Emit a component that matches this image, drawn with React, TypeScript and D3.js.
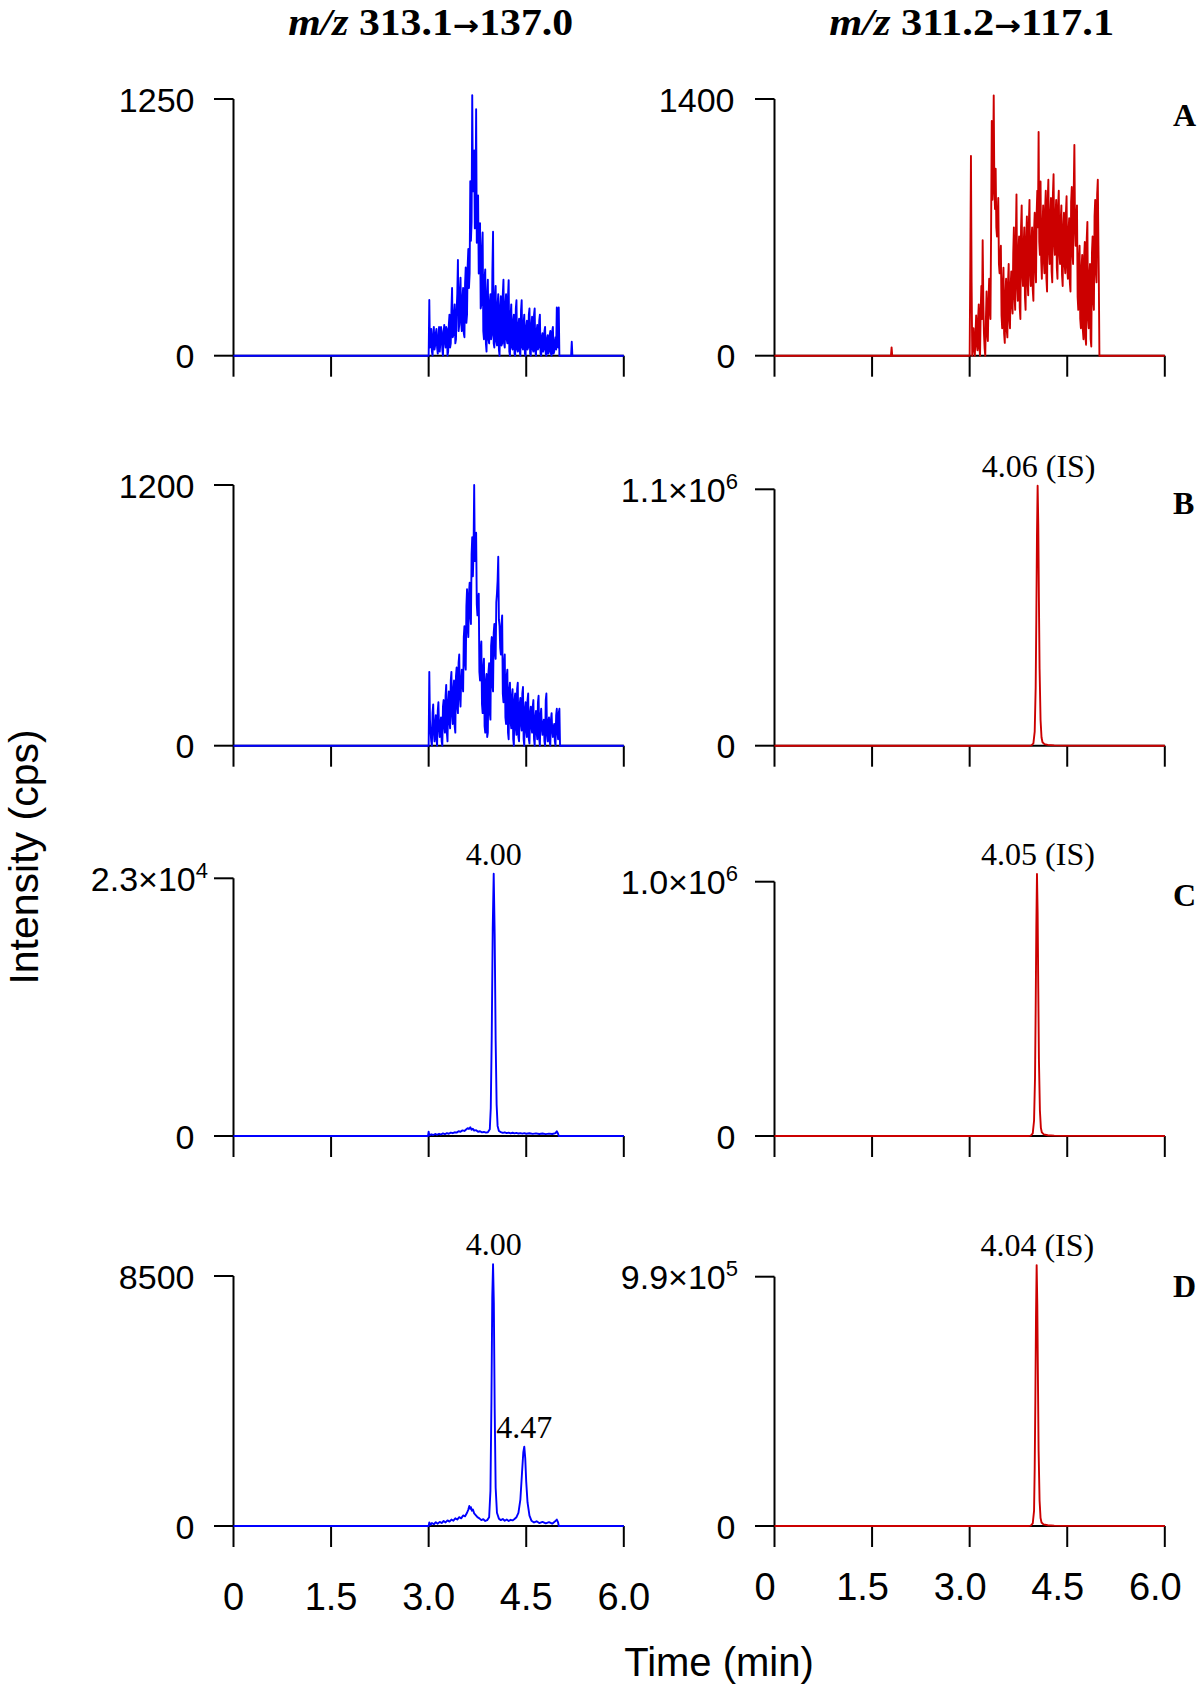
import React from "react";
import * as d3 from "d3";

type Pt = [number, number];

// ---------- DATA ----------
const timeTicks = [0, 1.5, 3.0, 4.5, 6.0];
const timeTickLabels = ["0", "1.5", "3.0", "4.5", "6.0"];
const columnTitles: [string, string][] = [["313.1", "137.0"], ["311.2", "117.1"]];
const panelLetters = ["A", "B", "C", "D"];
const yAxisTitle = "Intensity (cps)";
const xAxisTitle = "Time (min)";

const leftMax = [1250, 1200, 23000, 8500];
const rightMax = [1400, 1100000, 1000000, 990000];
const leftMaxLabels: [string, string | null][] = [["1250", null], ["1200", null], ["2.3", "4"], ["8500", null]];
const rightMaxLabels: [string, string | null][] = [["1400", null], ["1.1", "6"], ["1.0", "6"], ["9.9", "5"]];

// Panel A, m/z 313.1->137.0 (blank)
const aLeft: Pt[] = [
  [0, 0], [3.0, 0], [3.01, 271], [3.02, 40], [3.03, 90], [3.04, 130], [3.05, 20], [3.06, 0], [3.07, 100], [3.08, 140], [3.09, 30], [3.1, 50], [3.11, 110], [3.12, 130], [3.13, 40], [3.14, 10],
  [3.15, 90], [3.16, 140], [3.17, 20], [3.18, 60], [3.19, 140], [3.2, 120], [3.21, 30], [3.22, 0], [3.23, 110], [3.24, 150], [3.25, 70], [3.26, 40], [3.27, 140], [3.28, 130], [3.29, 0], [3.3, 20],
  [3.31, 150], [3.32, 200], [3.33, 40], [3.34, 60], [3.35, 220], [3.36, 330], [3.37, 90], [3.38, 100], [3.39, 200], [3.4, 250], [3.41, 60], [3.42, 80], [3.43, 220], [3.44, 300], [3.45, 466], [3.46, 120],
  [3.47, 150], [3.48, 310], [3.49, 380], [3.5, 160], [3.51, 120], [3.52, 280], [3.53, 330], [3.54, 110], [3.55, 90], [3.56, 350], [3.57, 430], [3.58, 160], [3.59, 200], [3.6, 440], [3.61, 520], [3.62, 330],
  [3.63, 400], [3.64, 850], [3.65, 560], [3.66, 650], [3.67, 1269], [3.68, 800], [3.69, 850], [3.7, 1000], [3.71, 620], [3.72, 700], [3.73, 1200], [3.74, 550], [3.75, 600], [3.76, 780], [3.77, 400], [3.78, 450],
  [3.79, 645], [3.8, 230], [3.81, 250], [3.82, 520], [3.83, 600], [3.84, 120], [3.85, 80], [3.86, 380], [3.87, 420], [3.88, 60], [3.89, 20], [3.9, 300], [3.91, 370], [3.92, 80], [3.93, 60], [3.94, 260],
  [3.95, 300], [3.96, 80], [3.97, 100], [3.98, 420], [3.99, 604], [4.0, 60], [4.01, 40], [4.02, 280], [4.03, 340], [4.04, 70], [4.05, 50], [4.06, 250], [4.07, 300], [4.08, 30], [4.09, 0], [4.1, 240],
  [4.11, 290], [4.12, 50], [4.13, 60], [4.14, 300], [4.15, 370], [4.16, 60], [4.17, 40], [4.18, 250], [4.19, 300], [4.2, 80], [4.21, 60], [4.22, 290], [4.23, 368], [4.24, 20], [4.25, 0], [4.26, 200],
  [4.27, 250], [4.28, 40], [4.29, 30], [4.3, 170], [4.31, 200], [4.32, 10], [4.33, 0], [4.34, 230], [4.35, 270], [4.36, 30], [4.37, 20], [4.38, 150], [4.39, 180], [4.4, 20], [4.41, 0], [4.42, 220],
  [4.43, 270], [4.44, 40], [4.45, 30], [4.46, 160], [4.47, 200], [4.48, 10], [4.49, 0], [4.5, 140], [4.51, 170], [4.52, 30], [4.53, 40], [4.54, 200], [4.55, 230], [4.56, 10], [4.57, 0], [4.58, 150],
  [4.59, 190], [4.6, 30], [4.61, 20], [4.62, 200], [4.63, 230], [4.64, 20], [4.65, 0], [4.66, 120], [4.67, 150], [4.68, 30], [4.69, 40], [4.7, 170], [4.71, 200], [4.72, 10], [4.73, 0], [4.74, 90],
  [4.75, 110], [4.76, 20], [4.77, 30], [4.78, 120], [4.79, 140], [4.8, 10], [4.81, 0], [4.82, 80], [4.83, 100], [4.84, 10], [4.85, 20], [4.86, 100], [4.87, 120], [4.88, 10], [4.89, 0], [4.9, 120],
  [4.91, 140], [4.92, 10], [4.93, 20], [4.94, 70], [4.95, 90], [4.96, 30], [4.97, 235], [4.98, 60], [4.99, 40], [5.0, 235], [5.01, 0], [5.19, 0], [5.2, 68], [5.21, 0], [6.0, 0],
];

// Panel A, m/z 311.2->117.1 (blank)
const aRight: Pt[] = [
  [0, 0], [1.79, 0], [1.8, 45], [1.81, 0], [3.0, 0], [3.01, 500], [3.02, 1090], [3.03, 400], [3.04, 0], [3.05, 60], [3.06, 150], [3.07, 30],
  [3.08, 0], [3.09, 120], [3.1, 220], [3.11, 60], [3.12, 30], [3.13, 200], [3.14, 280], [3.15, 40], [3.16, 0], [3.17, 250], [3.18, 380], [3.19, 200], [3.2, 630], [3.21, 300], [3.22, 120], [3.23, 40], [3.24, 0], [3.25, 200], [3.26, 350],
  [3.27, 120], [3.28, 80], [3.29, 300], [3.3, 420], [3.31, 250], [3.32, 200], [3.33, 700], [3.34, 1280], [3.35, 850], [3.36, 1000], [3.37, 1420], [3.38, 900], [3.39, 800], [3.4, 1020], [3.41, 700], [3.42, 650], [3.43, 760], [3.44, 860],
  [3.45, 500], [3.46, 450], [3.47, 520], [3.48, 600], [3.49, 220], [3.5, 150], [3.51, 380], [3.52, 480], [3.53, 120], [3.54, 70], [3.55, 330], [3.56, 420], [3.57, 140], [3.58, 100], [3.59, 400], [3.6, 500], [3.61, 200], [3.62, 150], [3.63, 380], [3.64, 460],
  [3.65, 280], [3.66, 230], [3.67, 560], [3.68, 700], [3.69, 320], [3.7, 250], [3.71, 640], [3.72, 880], [3.73, 380], [3.74, 300], [3.75, 560], [3.76, 650], [3.77, 260], [3.78, 200], [3.79, 700], [3.8, 820], [3.81, 450], [3.82, 380], [3.83, 600], [3.84, 700],
  [3.85, 320], [3.86, 250], [3.87, 640], [3.88, 760], [3.89, 400], [3.9, 330], [3.91, 720], [3.92, 850], [3.93, 450], [3.94, 380], [3.95, 620], [3.96, 700], [3.97, 360], [3.98, 300], [3.99, 680], [4.0, 780], [4.01, 480], [4.02, 400], [4.03, 780], [4.04, 900],
  [4.05, 700], [4.06, 1220], [4.07, 620], [4.08, 550], [4.09, 950], [4.1, 520], [4.11, 420], [4.12, 700], [4.13, 820], [4.14, 520], [4.15, 450], [4.16, 800], [4.17, 900], [4.18, 420], [4.19, 350], [4.2, 850], [4.21, 960], [4.22, 580], [4.23, 500],
  [4.24, 760], [4.25, 860], [4.26, 460], [4.27, 400], [4.28, 880], [4.29, 990], [4.3, 620], [4.31, 550], [4.32, 760], [4.33, 850], [4.34, 480], [4.35, 420], [4.36, 820], [4.37, 900], [4.38, 560], [4.39, 500], [4.4, 740], [4.41, 820], [4.42, 440], [4.43, 380],
  [4.44, 700], [4.45, 780], [4.46, 500], [4.47, 450], [4.48, 780], [4.49, 870], [4.5, 480], [4.51, 420], [4.52, 680], [4.53, 750], [4.54, 400], [4.55, 350], [4.56, 840], [4.57, 920], [4.58, 560], [4.59, 500], [4.6, 900], [4.61, 1150], [4.62, 700], [4.63, 600],
  [4.64, 740], [4.65, 820], [4.66, 320], [4.67, 250], [4.68, 520], [4.69, 600], [4.7, 200], [4.71, 150], [4.72, 480], [4.73, 550], [4.74, 140], [4.75, 90], [4.76, 540], [4.77, 620], [4.78, 100], [4.79, 60], [4.8, 640], [4.81, 730], [4.82, 200], [4.83, 150],
  [4.84, 440], [4.85, 500], [4.86, 90], [4.87, 50], [4.88, 560], [4.89, 650], [4.9, 300], [4.91, 250], [4.92, 760], [4.93, 850], [4.94, 460], [4.95, 400], [4.96, 880], [4.97, 960], [4.98, 600], [4.985, 450], [4.995, 0], [6.0, 0],
];

// Panel B, m/z 313.1->137.0
const bLeft: Pt[] = [
  [0, 0], [3.0, 0], [3.01, 340], [3.02, 120], [3.03, 60], [3.04, 20], [3.05, 0], [3.06, 150], [3.07, 190], [3.08, 60], [3.09, 20], [3.1, 100], [3.11, 140], [3.12, 30], [3.13, 0], [3.14, 160], [3.15, 200],
  [3.16, 80], [3.17, 40], [3.18, 100], [3.19, 130], [3.2, 20], [3.21, 0], [3.22, 180], [3.23, 210], [3.24, 90], [3.25, 60], [3.26, 230], [3.27, 280], [3.28, 60], [3.29, 20], [3.3, 200], [3.31, 250], [3.32, 110], [3.33, 80], [3.34, 300], [3.35, 340],
  [3.36, 140], [3.37, 100], [3.38, 260], [3.39, 300], [3.4, 90], [3.41, 60], [3.42, 320], [3.43, 360], [3.44, 180], [3.45, 150], [3.46, 380], [3.47, 420], [3.48, 220], [3.49, 180], [3.5, 300], [3.51, 350], [3.52, 280], [3.53, 250], [3.54, 500], [3.55, 550],
  [3.56, 380], [3.57, 350], [3.58, 640], [3.59, 720], [3.6, 540], [3.61, 500], [3.62, 700], [3.63, 750], [3.64, 600], [3.65, 560], [3.66, 880], [3.67, 960], [3.68, 780], [3.69, 900], [3.7, 1200], [3.71, 850], [3.72, 900], [3.73, 980], [3.74, 650], [3.75, 600],
  [3.76, 660], [3.77, 700], [3.78, 340], [3.79, 300], [3.8, 440], [3.81, 480], [3.82, 190], [3.83, 150], [3.84, 360], [3.85, 400], [3.86, 90], [3.87, 60], [3.88, 300], [3.89, 330], [3.9, 40], [3.91, 60], [3.92, 340], [3.93, 380], [3.94, 150], [3.95, 120],
  [3.96, 460], [3.97, 500], [3.98, 280], [3.99, 250], [4.0, 520], [4.01, 560], [4.02, 430], [4.03, 400], [4.04, 660], [4.05, 700], [4.06, 760], [4.07, 870], [4.08, 580], [4.09, 550], [4.1, 450], [4.11, 420], [4.12, 560], [4.13, 600], [4.14, 240], [4.15, 200],
  [4.16, 380], [4.17, 420], [4.18, 130], [4.19, 100], [4.2, 320], [4.21, 350], [4.22, 60], [4.23, 30], [4.24, 260], [4.25, 290], [4.26, 110], [4.27, 80], [4.28, 230], [4.29, 260], [4.3, 30], [4.31, 0], [4.32, 210], [4.33, 240], [4.34, 80], [4.35, 50],
  [4.36, 260], [4.37, 290], [4.38, 40], [4.39, 20], [4.4, 190], [4.41, 220], [4.42, 100], [4.43, 70], [4.44, 240], [4.45, 270], [4.46, 30], [4.47, 0], [4.48, 170], [4.49, 200], [4.5, 70], [4.51, 40], [4.52, 210], [4.53, 240], [4.54, 30], [4.55, 10],
  [4.56, 150], [4.57, 180], [4.58, 90], [4.59, 60], [4.6, 180], [4.61, 210], [4.62, 30], [4.63, 0], [4.64, 130], [4.65, 160], [4.66, 60], [4.67, 30], [4.68, 200], [4.69, 230], [4.7, 30], [4.71, 0], [4.72, 140], [4.73, 170], [4.74, 80], [4.75, 50],
  [4.76, 100], [4.77, 120], [4.78, 20], [4.79, 0], [4.8, 210], [4.81, 240], [4.82, 50], [4.83, 20], [4.84, 110], [4.85, 130], [4.86, 20], [4.87, 0], [4.88, 120], [4.89, 150], [4.9, 70], [4.91, 40], [4.92, 80], [4.93, 100], [4.94, 20], [4.95, 0],
  [4.96, 140], [4.97, 170], [4.98, 60], [4.99, 30], [5.0, 150], [5.01, 170], [5.02, 0], [6.0, 0],
];

// Panel B, m/z 311.2->117.1
const bRight: Pt[] = [
  [0, 0], [3.9, 0], [3.95, 1500], [3.98, 10000], [4.0, 60000], [4.015, 250000], [4.025, 550000], [4.035, 900000], [4.045, 1115000],
  [4.055, 950000], [4.065, 620000], [4.075, 330000], [4.09, 110000], [4.105, 35000], [4.12, 15000], [4.15, 7000], [4.2, 3500],
  [4.3, 1500], [4.5, 500], [6.0, 0],
];

// Panel C, m/z 313.1->137.0
const cLeft: Pt[] = [
  [0, 0], [2.99, 0], [3.0, 380], [3.01, 60], [3.04, 150], [3.07, 90], [3.1, 180], [3.13, 110], [3.16, 200], [3.19, 130],
  [3.22, 230], [3.25, 160], [3.28, 260], [3.31, 200], [3.34, 300], [3.37, 250], [3.4, 330], [3.43, 300], [3.46, 420], [3.49, 380],
  [3.52, 500], [3.55, 450], [3.58, 600], [3.6, 700], [3.62, 620], [3.64, 780], [3.66, 560], [3.68, 650], [3.7, 480], [3.73, 520],
  [3.76, 380], [3.79, 420], [3.82, 320], [3.85, 360], [3.88, 300], [3.91, 330], [3.94, 600], [3.955, 2500], [3.97, 9000], [3.985, 18500],
  [4.0, 23400], [4.015, 18000], [4.03, 8500], [4.045, 2800], [4.06, 900], [4.08, 450], [4.11, 350], [4.14, 280], [4.17, 330], [4.2, 260],
  [4.23, 300], [4.26, 240], [4.29, 290], [4.32, 230], [4.35, 280], [4.38, 220], [4.41, 260], [4.44, 210], [4.47, 250], [4.5, 200],
  [4.55, 240], [4.6, 190], [4.65, 230], [4.7, 180], [4.75, 220], [4.8, 170], [4.85, 210], [4.9, 180], [4.95, 260], [4.97, 420],
  [4.99, 200], [5.0, 0], [6.0, 0],
];

// Panel C, m/z 311.2->117.1
const cRight: Pt[] = [
  [0, 0], [3.9, 0], [3.94, 1500], [3.97, 10000], [3.99, 60000], [4.005, 230000], [4.015, 500000], [4.025, 820000], [4.035, 1030000],
  [4.045, 880000], [4.055, 580000], [4.065, 300000], [4.08, 100000], [4.095, 32000], [4.11, 14000], [4.14, 6500], [4.2, 3000],
  [4.3, 1400], [4.5, 500], [6.0, 0],
];

// Panel D, m/z 313.1->137.0
const dLeft: Pt[] = [
  [0, 0], [3.0, 0], [3.01, 120], [3.03, 40], [3.05, 100], [3.08, 60], [3.11, 130], [3.14, 80], [3.17, 140], [3.2, 100],
  [3.23, 170], [3.26, 120], [3.29, 190], [3.32, 150], [3.35, 220], [3.38, 180], [3.41, 260], [3.44, 220], [3.47, 300], [3.5, 260],
  [3.53, 360], [3.56, 330], [3.59, 450], [3.61, 560], [3.625, 680], [3.64, 590], [3.65, 640], [3.665, 520], [3.68, 560], [3.7, 430],
  [3.72, 380], [3.75, 300], [3.78, 260], [3.81, 200], [3.84, 230], [3.87, 170], [3.9, 200], [3.93, 300], [3.95, 1200], [3.965, 4200],
  [3.978, 7800], [3.99, 8900], [4.002, 7600], [4.015, 4000], [4.03, 1300], [4.05, 450], [4.08, 250], [4.11, 200], [4.14, 240], [4.17, 180],
  [4.2, 220], [4.23, 170], [4.26, 210], [4.29, 190], [4.32, 240], [4.35, 300], [4.38, 450], [4.41, 900], [4.435, 1800], [4.455, 2500],
  [4.47, 2700], [4.485, 2300], [4.5, 1500], [4.52, 800], [4.55, 350], [4.58, 180], [4.62, 120], [4.66, 160], [4.7, 100], [4.75, 140],
  [4.8, 90], [4.85, 130], [4.9, 80], [4.94, 150], [4.97, 220], [4.99, 120], [5.0, 0], [6.0, 0],
];

// Panel D, m/z 311.2->117.1
const dRight: Pt[] = [
  [0, 0], [3.9, 0], [3.94, 1500], [3.97, 10000], [3.99, 60000], [4.0, 230000], [4.01, 500000], [4.02, 830000], [4.03, 1036000],
  [4.04, 880000], [4.05, 580000], [4.06, 300000], [4.075, 100000], [4.09, 32000], [4.105, 14000], [4.135, 6500], [4.2, 3000],
  [4.3, 1400], [4.5, 500], [6.0, 0],
];

type Ann = { t: number; v: number; label: string };
const leftAnnotations: Ann[][] = [[], [], [{ t: 4.0, v: 23400, label: "4.00" }], [{ t: 4.0, v: 8900, label: "4.00" }, { t: 4.47, v: 2700, label: "4.47" }]];
const rightAnnotations: Ann[][] = [[], [{ t: 4.06, v: 1115000, label: "4.06 (IS)" }], [{ t: 4.05, v: 1030000, label: "4.05 (IS)" }], [{ t: 4.04, v: 1036000, label: "4.04 (IS)" }]];

const leftSeries = [aLeft, bLeft, cLeft, dLeft];
const rightSeries = [aRight, bRight, cRight, dRight];
const seriesColors = ["#0000ff", "#cc0000"];

// ---------- LAYOUT ----------
const W = 1200, H = 1687;
const COL_X0 = [233.5, 774.5];
const PLOT_W = 390.3;
const ROW_BASE = [355.7, 745.7, 1136, 1526];
const ROW_TOP = [[99, 99], [485, 489.3], [878.3, 881.7], [1276, 1276.7]];
const LETTER_BASE = [126, 514, 906, 1297];
const SANS = "'Liberation Sans', Arial, Helvetica, sans-serif";
const SERIF = "'Liberation Serif', 'Times New Roman', Times, serif";

function Panel(props: {
  x0: number; base: number; top: number; yMax: number; data: Pt[]; color: string;
  maxLabel: [string, string | null]; labelEnd: number; anns: Ann[]; showX: boolean; xLabelShift: number; xLabelBase: number;
}) {
  const { x0, base, top, yMax, data, color, maxLabel, labelEnd, anns, showX, xLabelShift, xLabelBase } = props;
  const x = d3.scaleLinear().domain([0, 6]).range([x0, x0 + PLOT_W]);
  const y = d3.scaleLinear().domain([0, yMax]).range([base, top]);
  const line = d3.line<Pt>().x((d) => x(d[0])).y((d) => y(d[1]));
  const ax = { stroke: "#000", strokeWidth: 2 };
  return (
    <g>
      <line x1={x0} x2={x0} y1={y(yMax)} y2={y(0)} {...ax} />
      {[0, yMax].map((v, i) => (
        <line key={"yt" + i} x1={x0 - 19.5} x2={x0} y1={y(v)} y2={y(v)} {...ax} />
      ))}
      <line x1={x(0)} x2={x(6)} y1={base} y2={base} {...ax} />
      {timeTicks.map((t, i) => (
        <line key={"xt" + i} x1={x(t)} x2={x(t)} y1={base} y2={base + 21} {...ax} />
      ))}
      <text x={x0 - 39} y={y(0) + 12.5} textAnchor="end" fontFamily={SANS} fontSize={34}>0</text>
      <text x={labelEnd} y={y(yMax) + 12.5} textAnchor="end" fontFamily={SANS} fontSize={34}>
        {maxLabel[1] ? maxLabel[0] + "\u00d710" : maxLabel[0]}
        {maxLabel[1] ? <tspan dy={-13} fontSize={22}>{maxLabel[1]}</tspan> : null}
      </text>
      <path d={line(data) || ""} fill="none" stroke={color} strokeWidth={1.9} strokeLinejoin="round" />
      {anns.map((a, i) => (
        <text key={"an" + i} x={x(a.t)} y={y(a.v) - 9} textAnchor="middle" fontFamily={SERIF} fontSize={32}>{a.label}</text>
      ))}
      {showX && timeTicks.map((t, i) => (
        <text key={"xl" + i} x={x(t) + xLabelShift} y={xLabelBase} textAnchor="middle" fontFamily={SANS} fontSize={38}>{timeTickLabels[i]}</text>
      ))}
    </g>
  );
}

export default function App() {
  const panels: JSX.Element[] = [];
  for (let r = 0; r < 4; r++) {
    panels.push(
      <Panel key={"L" + r} x0={COL_X0[0]} base={ROW_BASE[r]} top={ROW_TOP[r][0]} yMax={leftMax[r]} data={leftSeries[r]}
        color={seriesColors[0]} maxLabel={leftMaxLabels[r]} labelEnd={leftMaxLabels[r][1] ? COL_X0[0] - 25.5 : COL_X0[0] - 39}
        anns={leftAnnotations[r]} showX={r === 3} xLabelShift={0} xLabelBase={1610} />
    );
    panels.push(
      <Panel key={"R" + r} x0={COL_X0[1]} base={ROW_BASE[r]} top={ROW_TOP[r][1]} yMax={rightMax[r]} data={rightSeries[r]}
        color={seriesColors[1]} maxLabel={rightMaxLabels[r]} labelEnd={rightMaxLabels[r][1] ? COL_X0[1] - 36.5 : COL_X0[1] - 40}
        anns={rightAnnotations[r]} showX={r === 3} xLabelShift={-9.5} xLabelBase={1600} />
    );
  }
  return (
    <svg width={W} height={H} viewBox={`0 0 ${W} ${H}`} style={{ position: "absolute", left: 0, top: 0, background: "#fff" }}>
      <rect x={0} y={0} width={W} height={H} fill="#fff" />
      {columnTitles.map((t, i) => (
        <text key={"ct" + i} x={COL_X0[i] + PLOT_W / 2 + 2} y={35} textAnchor="middle" fontFamily={SERIF}
          fontWeight="bold" fontSize={37} textLength={285} lengthAdjust="spacingAndGlyphs">
          <tspan fontStyle="italic">{"m/z"}</tspan>{" " + t[0]}
          <tspan fontFamily="'DejaVu Sans', sans-serif" fontSize={28}>{"\u2192"}</tspan>{t[1]}
        </text>
      ))}
      {panels}
      {panelLetters.map((l, i) => (
        <text key={"pl" + i} x={1173} y={LETTER_BASE[i]} fontFamily={SERIF} fontWeight="bold" fontSize={32}>{l}</text>
      ))}
      <text transform="translate(38,857) rotate(-90)" textAnchor="middle" fontFamily={SANS} fontSize={41}>{yAxisTitle}</text>
      <text x={719} y={1676} textAnchor="middle" fontFamily={SANS} fontSize={40}>{xAxisTitle}</text>
    </svg>
  );
}
